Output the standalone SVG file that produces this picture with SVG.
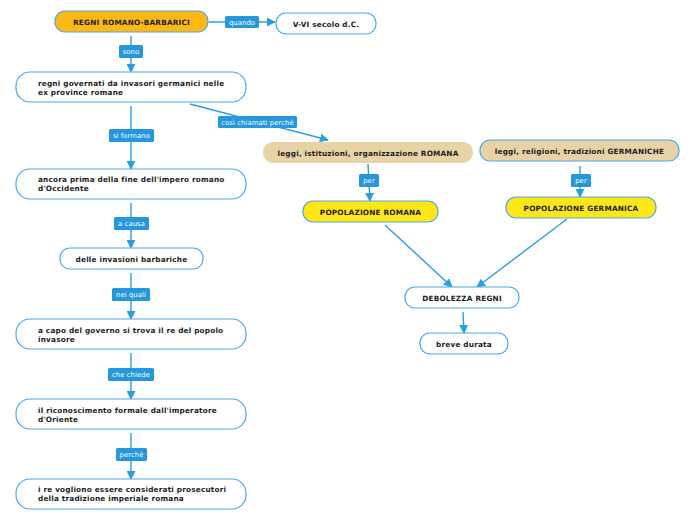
<svg xmlns="http://www.w3.org/2000/svg" width="696" height="520" viewBox="0 0 696 520">
<defs>
<marker id="arr" viewBox="0 0 10 10" refX="9" refY="5" markerWidth="9" markerHeight="9" markerUnits="userSpaceOnUse" orient="auto">
<path d="M0,0 L10,5 L0,10 z" fill="#2a9ee2"/>
</marker>
<style>
.n{fill:#fff;stroke:#4aa9e8;stroke-width:1.2}
.or{fill:#fdb813}
.tan{fill:#e8d3a6}
.ye{fill:#ffe617}
.t{font-family:"DejaVu Sans",Verdana,sans-serif;font-weight:bold;font-size:7.3px;letter-spacing:0.2px;fill:#222}
.c{stroke:#2a9ee2;stroke-width:1.4;fill:none}
.lb{fill:#2497dd}
.lt{font-family:"DejaVu Sans",Verdana,sans-serif;font-size:6.8px;letter-spacing:0.1px;fill:#fff;text-anchor:middle}
</style>
</defs>
<rect width="696" height="520" fill="#fff"/>
<g id="connectors">
<line class="c" x1="209" y1="22" x2="275" y2="22" marker-end="url(#arr)"/>
<line class="c" x1="131" y1="36" x2="131" y2="72" marker-end="url(#arr)"/>
<line class="c" x1="190" y1="104" x2="328" y2="140" marker-end="url(#arr)"/>
<line class="c" x1="131" y1="106" x2="131" y2="169" marker-end="url(#arr)"/>
<line class="c" x1="131" y1="203" x2="131" y2="248" marker-end="url(#arr)"/>
<line class="c" x1="131" y1="273" x2="131" y2="319" marker-end="url(#arr)"/>
<line class="c" x1="131" y1="353" x2="131" y2="399" marker-end="url(#arr)"/>
<line class="c" x1="131" y1="433" x2="131" y2="479" marker-end="url(#arr)"/>
<line class="c" x1="368" y1="164" x2="370" y2="201" marker-end="url(#arr)"/>
<line class="c" x1="580" y1="166" x2="580" y2="197" marker-end="url(#arr)"/>
<line class="c" x1="385" y1="225" x2="452" y2="287" marker-end="url(#arr)"/>
<line class="c" x1="567" y1="219" x2="477" y2="287" marker-end="url(#arr)"/>
<line class="c" x1="463" y1="312" x2="464" y2="333" marker-end="url(#arr)"/>
<rect class="lb" x="225" y="16" width="34" height="12" rx="1.5"/>
<text class="lt" x="242" y="24.5">quando</text>
<rect class="lb" x="119" y="45" width="24" height="13" rx="1.5"/>
<text class="lt" x="131" y="54">sono</text>
<rect class="lb" x="218" y="116" width="79" height="12" rx="1.5"/>
<text class="lt" x="257.5" y="124.5">così chiamati perchè</text>
<rect class="lb" x="109" y="129" width="45" height="13" rx="1.5"/>
<text class="lt" x="131.5" y="138">si formano</text>
<rect class="lb" x="114" y="217" width="35" height="13" rx="1.5"/>
<text class="lt" x="131.5" y="226">a causa</text>
<rect class="lb" x="112" y="288" width="38" height="13" rx="1.5"/>
<text class="lt" x="131" y="297">nei quali</text>
<rect class="lb" x="108" y="368" width="46" height="13" rx="1.5"/>
<text class="lt" x="131" y="377">che chiede</text>
<rect class="lb" x="116" y="448" width="31" height="13" rx="1.5"/>
<text class="lt" x="131.5" y="457">perchè</text>
<rect class="lb" x="359" y="174" width="20" height="13" rx="1.5"/>
<text class="lt" x="369" y="183">per</text>
<rect class="lb" x="571" y="174" width="20" height="13" rx="1.5"/>
<text class="lt" x="581" y="183">per</text>
</g>
<g id="n1"><rect class="n or" x="55" y="11" width="153" height="21" rx="10"/><text class="t" x="131.5" y="24.5" text-anchor="middle">REGNI ROMANO-BARBARICI</text></g>
<g id="n2"><rect class="n" x="276" y="13" width="100" height="21" rx="10"/><text class="t" x="326" y="26.5" text-anchor="middle">V-VI secolo d.C.</text></g>
<g id="n3"><rect class="n" x="16" y="72" width="230" height="30" rx="14"/><text class="t" x="38" y="86">regni governati da invasori germanici nelle</text><text class="t" x="38" y="95">ex province romane</text></g>
<g id="n4"><rect class="n" x="16" y="169" width="230" height="30" rx="14"/><text class="t" x="38" y="182">ancora prima della fine dell'impero romano</text><text class="t" x="38" y="191">d'Occidente</text></g>
<g id="n5"><rect class="n" x="60" y="248" width="143" height="21" rx="10"/><text class="t" x="131.5" y="261.5" text-anchor="middle">delle invasioni barbariche</text></g>
<g id="n6"><rect class="n" x="16" y="319" width="230" height="30" rx="14"/><text class="t" x="38" y="333">a capo del governo si trova il re del popolo</text><text class="t" x="38" y="342">invasore</text></g>
<g id="n7"><rect class="n" x="16" y="399" width="230" height="30" rx="14"/><text class="t" x="38" y="413">il riconoscimento formale dall'imperatore</text><text class="t" x="38" y="422">d'Oriente</text></g>
<g id="n8"><rect class="n" x="16" y="479" width="230" height="30" rx="14"/><text class="t" x="38" y="492">i re vogliono essere considerati prosecutori</text><text class="t" x="38" y="501">della tradizione imperiale romana</text></g>
<g id="n9"><rect class="tan" x="263" y="142" width="210" height="21" rx="10"/><text class="t" x="368" y="155.5" text-anchor="middle">leggi, istituzioni, organizzazione ROMANA</text></g>
<g id="n10"><rect class="n tan" x="480" y="140" width="199" height="21" rx="10"/><text class="t" x="579.5" y="153.5" text-anchor="middle">leggi, religioni, tradizioni GERMANICHE</text></g>
<g id="n11"><rect class="n ye" x="303" y="201" width="135" height="21" rx="10"/><text class="t" x="370.5" y="214.5" text-anchor="middle">POPOLAZIONE ROMANA</text></g>
<g id="n12"><rect class="n ye" x="506" y="197" width="150" height="21" rx="10"/><text class="t" x="581" y="210.5" text-anchor="middle">POPOLAZIONE GERMANICA</text></g>
<g id="n13"><rect class="n" x="405" y="287" width="114" height="21" rx="10"/><text class="t" x="462" y="300.5" text-anchor="middle">DEBOLEZZA REGNI</text></g>
<g id="n14"><rect class="n" x="420" y="333" width="88" height="21" rx="10"/><text class="t" x="464" y="346.5" text-anchor="middle">breve durata</text></g>
</svg>
